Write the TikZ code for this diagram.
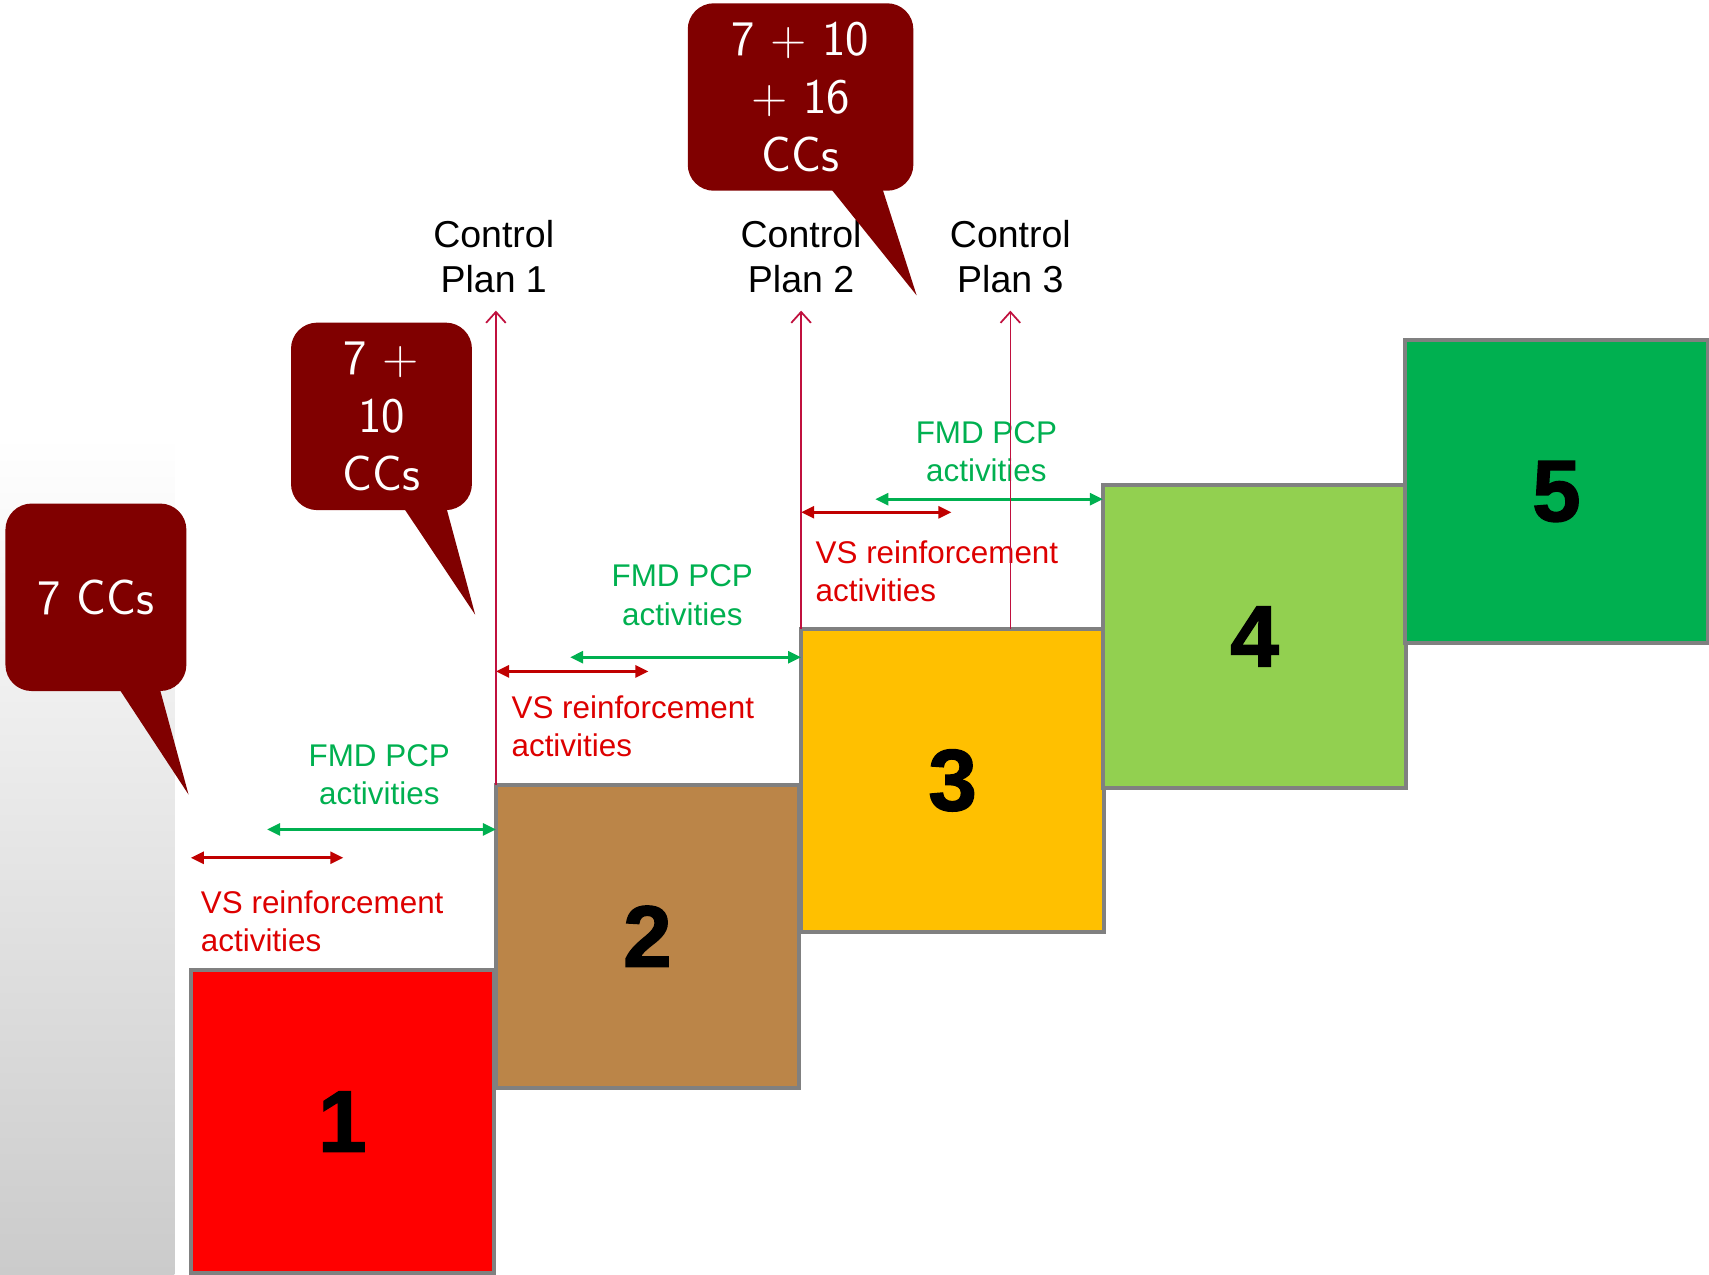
\documentclass[tikz,border=0pt]{standalone}
\usepackage{fontspec}
\setmainfont{Liberation Sans}
\newfontfamily\stagefont[FakeBold=1.6]{Liberation Sans Bold}
\usetikzlibrary{arrows.meta,calc}

\definecolor{ccred}{HTML}{800000}
\definecolor{stagegray}{HTML}{808080}
\definecolor{stripgray}{HTML}{CBCBCB}
\definecolor{vsred}{HTML}{DD0000}
\definecolor{vsdark}{HTML}{C00000}
\definecolor{fmdgreen}{HTML}{00B050}
\definecolor{cpred}{HTML}{C0103E}
\definecolor{boxone}{HTML}{FF0000}
\definecolor{boxtwo}{HTML}{BB8548}
\definecolor{boxthree}{HTML}{FFC000}
\definecolor{boxfour}{HTML}{92D050}
\definecolor{boxfive}{HTML}{00B050}

\begin{document}
\begin{tikzpicture}[x=0.5pt, y=-0.5pt,
  stage/.style  = {draw=stagegray, line width=2pt, minimum width=139pt, minimum height=139pt,
                   inner sep=0pt, outer sep=0pt, anchor=north west,
                   font=\stagefont\fontsize{40}{40}\selectfont},
  vs/.style     = {text=vsred, align=left, anchor=north west, inner sep=0pt,
                   font=\fontsize{14.4}{17.5}\selectfont},
  fmd/.style    = {text=fmdgreen, align=center, anchor=north, inner sep=0pt,
                   font=\fontsize{14.4}{17.5}\selectfont},
  plan/.style   = {align=center, anchor=south, inner sep=8pt,
                   font=\fontsize{17.2}{20.6}\selectfont},
  callout/.style = {fill=ccred, rounded corners=12pt, text=white, align=center,
                   minimum height=86pt, inner sep=0pt,
                   font=\sffamily\fontsize{22.8}{26.4}\selectfont},
  vsarrow/.style  = {draw=vsdark, line width=1.3pt,
                     {Triangle[length=6pt,width=5.5pt]}-{Triangle[length=6pt,width=5.5pt]}},
  fmdarrow/.style = {draw=fmdgreen, line width=1.3pt,
                     {Triangle[length=6pt,width=5.5pt]}-{Triangle[length=6pt,width=5.5pt]}},
  cpline/.style   = {draw=cpred, line width=0.8pt, -{Straight Barb[length=5pt,width=9pt]}},
  ]
    \useasboundingbox (0,0) rectangle (1568,1169);

    % grey strip on the left
    \shade[top color=white, bottom color=stripgray] (0,400) rectangle (160,1169);

    % the five stages
    \node [stage, fill=boxone]   (box1) at (175,890)  {1};
    \node [stage, fill=boxtwo]   (box2) at (455,720)  {2};
    \node [stage, fill=boxthree] (box3) at (735,577)  {3};
    \node [stage, fill=boxfour]  (box4) at (1012,445) {4};
    \node [stage, fill=boxfive]  (box5) at (1289,312) {5};

    % activity labels
    \node [vs]  (vs1)  at (184,817) {VS reinforcement\\activities};
    \node [vs]  (vs2)  at (469,638) {VS reinforcement\\activities};
    \node [vs]  (vs3)  at (748,496) {VS reinforcement\\activities};
    \node [fmd] (fmd1) at (348,683) {FMD PCP\\activities};
    \node [fmd] (fmd2) at (626,518) {FMD PCP\\activities};
    \node [fmd] (fmd3) at (905,386) {FMD PCP\\activities};

    % arrow ends
    \coordinate (vs1a)  at (175,787);  \coordinate (vs1b)  at (315,787);
    \coordinate (vs2a)  at (455,616);  \coordinate (vs2b)  at (595,616);
    \coordinate (vs3a)  at (735,470);  \coordinate (vs3b)  at (873,470);
    \coordinate (fmd1a) at (245,761);  \coordinate (fmd1b) at (455,761);
    \coordinate (fmd2a) at (523,603);  \coordinate (fmd2b) at (735,603);
    \coordinate (fmd3a) at (803,458);  \coordinate (fmd3b) at (1012,458);

    \path[vsarrow]  (vs1a) -- (vs1b);
    \path[vsarrow]  (vs2a) -- (vs2b);
    \path[vsarrow]  (vs3a) -- (vs3b);
    \path[fmdarrow] (fmd1a) -- (fmd1b);
    \path[fmdarrow] (fmd2a) -- (fmd2b);
    \path[fmdarrow] (fmd3a) -- (fmd3b);

    % control plans
    \node [plan] (plan1) at (453,285) {Control\\Plan 1};
    \node [plan] (plan2) at (735,285) {Control\\Plan 2};
    \node [plan] (plan3) at (927,285) {Control\\Plan 3};

    \path[cpline] (box2.north west) -- (box2.north west |- plan1.south);
    \path[cpline] (box3.north west) -- (box3.north west |- plan2.south);
    \path[cpline] (plan3.south |- box3.north) -- (plan3.south);

    % callouts
    \node [callout, minimum width=83pt]    (cc1) at (88,548)    {7 CCs};
    \node [callout, minimum width=83pt]    (cc2) at (350,382)   {7 +\\10\\CCs};
    \node [callout, minimum width=103.5pt] (cc3) at (734.5,89)  {7 + 10\\+ 16\\CCs};

    \coordinate (tip1) at (173,729);
    \coordinate (tip2) at (436,564);
    \coordinate (tip3) at (841,271);

    \fill[ccred] ($(cc1.south)+(15,-12)$) -- (tip1) -- ($(cc1.south)+(56,-12)$) -- cycle;
    \fill[ccred] ($(cc2.south)+(14,-12)$) -- (tip2) -- ($(cc2.south)+(57,-12)$) -- cycle;
    \fill[ccred] ($(cc3.south)+(20,-12)$) -- (tip3) -- ($(cc3.south)+(72,-12)$) -- cycle;
\end{tikzpicture}
\end{document}
